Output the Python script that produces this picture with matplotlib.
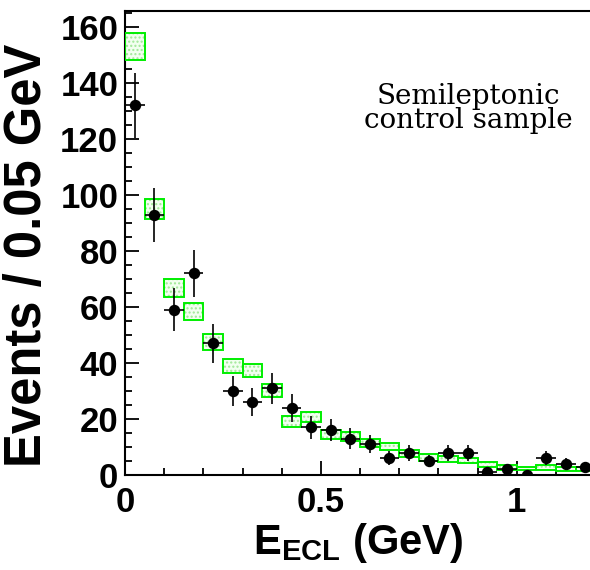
import numpy as np
import matplotlib
matplotlib.use("Agg")
import matplotlib.pyplot as plt

# ============================
# Data
# ============================
bin_centers = [0.025, 0.075, 0.125, 0.175, 0.225, 0.275, 0.325, 0.375,
               0.425, 0.475, 0.525, 0.575, 0.625, 0.675, 0.725, 0.775,
               0.825, 0.875, 0.925, 0.975, 1.025, 1.075, 1.125, 1.175]
bin_width = 0.05

# data points (events per bin)
data_counts = [132, 93, 59, 72, 47, 30, 26, 31, 24, 17, 16, 13,
               11, 6, 8, 5, 8, 8, 1, 2, 0, 6, 4, 3]

# MC expectation (box centre) and its half-height
mc_center = [153.2, 95.0, 66.7, 58.3, 47.4, 38.8, 37.3, 30.2, 19.1, 20.6,
             14.5, 13.8, 11.4, 10.2, 7.7, 6.3, 5.8, 5.1, 3.9, 2.7,
             2.3, 2.7, 2.2, 2.2]
mc_half = [4.8, 3.7, 3.2, 3.0, 2.8, 2.5, 2.4, 2.2, 1.9, 1.8,
           1.5, 1.5, 1.3, 1.3, 1.2, 1.2, 1.0, 0.9, 0.9, 0.75,
           0.65, 0.75, 0.75, 0.7]

x_ticks = [0, 0.5, 1]
x_tick_labels = ["0", "0.5", "1"]
y_ticks = [0, 20, 40, 60, 80, 100, 120, 140, 160]

# ============================
# Style
# ============================
plt.rcParams["font.family"] = ["Liberation Sans", "DejaVu Sans"]
plt.rcParams["font.weight"] = "bold"
plt.rcParams["mathtext.fontset"] = "custom"
plt.rcParams["mathtext.bf"] = "Liberation Sans:bold"
plt.rcParams["mathtext.rm"] = "Liberation Sans:bold"
plt.rcParams["mathtext.it"] = "Liberation Sans:bold"

fig = plt.figure(figsize=(5.9, 5.7), dpi=100)
ax = fig.add_axes([0.212, 0.1667, 0.788, 0.8143])

# ============================
# MC boxes (hatched green)
# ============================
lefts = np.array(bin_centers) - bin_width / 2
bottoms = np.array(mc_center) - np.array(mc_half)
heights = 2 * np.array(mc_half)
ax.bar(lefts, heights, width=bin_width, bottom=bottoms, align="edge",
       facecolor="#f2fff0", edgecolor="#a0e898", hatch="....",
       linewidth=0, zorder=2)
ax.bar(lefts, heights, width=bin_width, bottom=bottoms, align="edge",
       fill=False, edgecolor="#00ee00", linewidth=1.4, zorder=3)

# ============================
# Data points
# ============================
yerr = np.sqrt(np.array(data_counts, dtype=float))
ax.errorbar(bin_centers, data_counts, xerr=bin_width / 2, yerr=yerr,
            fmt="o", color="black", markersize=7.2, elinewidth=1.2,
            capsize=0, zorder=4)

# ============================
# Axes
# ============================
ax.set_xlim(0, 1.187)
ax.set_ylim(0, 165.8)
ax.set_xticks(x_ticks)
ax.set_xticklabels(x_tick_labels)
ax.set_xticks(np.arange(0.1, 1.2, 0.1), minor=True)
ax.set_yticks(y_ticks)
ax.set_yticks(np.arange(0, 166, 5), minor=True)

ax.tick_params(axis="both", which="major", direction="in", length=10,
               width=1.3, labelsize=25)
ax.tick_params(axis="both", which="minor", direction="in", length=5,
               width=1.3)
ax.tick_params(axis="x", pad=8)
ax.tick_params(axis="y", pad=5)
for lab in ax.get_xticklabels() + ax.get_yticklabels():
    lab.set_fontweight("bold")

ax.spines["right"].set_visible(False)
for s in ["left", "bottom", "top"]:
    ax.spines[s].set_linewidth(1.5)

ax.set_ylabel("Events / 0.05 GeV", fontsize=36.5, fontweight="bold")
ax.yaxis.set_label_coords(-0.158, 0.474)
ax.set_xlabel(r"$\mathbf{E_{ECL}}$ (GeV)", fontsize=30, fontweight="bold")
ax.xaxis.set_label_coords(0.5, -0.10)

ax.text(0.738, 0.79, "Semileptonic\ncontrol sample", transform=ax.transAxes,
        ha="center", va="center", fontsize=20, family="DejaVu Serif",
        fontweight="normal", linespacing=0.88)

plt.savefig("out.png", dpi=100)
plt.close()
